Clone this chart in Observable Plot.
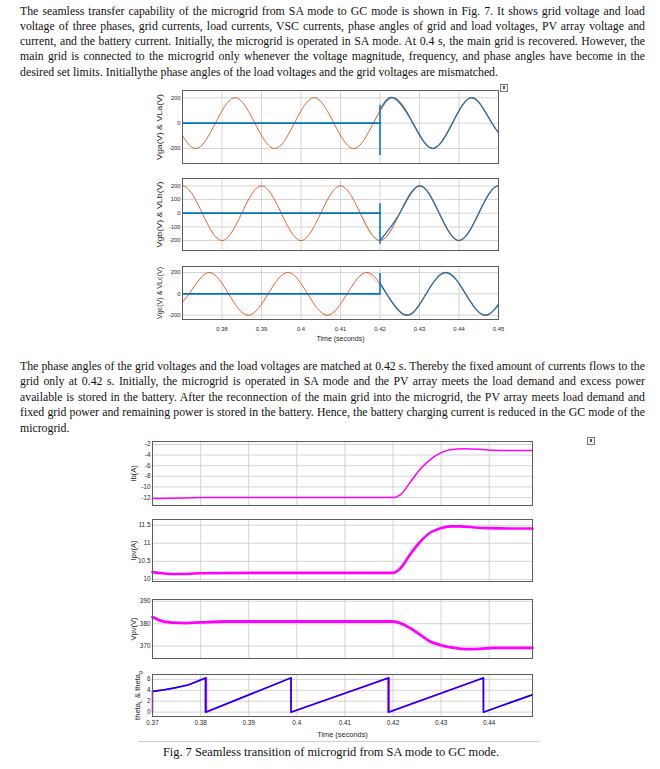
<!DOCTYPE html>
<html><head><meta charset="utf-8">
<script src="https://cdn.jsdelivr.net/npm/d3@7"></script>
<script src="https://cdn.jsdelivr.net/npm/@observablehq/plot@0.6"></script>
<style>
html,body{margin:0;padding:0;background:#fff;}
#page{position:relative;width:660px;height:769px;overflow:hidden;font-family:"Liberation Serif","Times New Roman",serif;color:#111;}
.ln{position:absolute;left:20px;width:625px;white-space:nowrap;font-size:11.8px;line-height:15px;height:15px;}
.panel{position:absolute;}
.icon{position:absolute;width:6px;height:6px;border:1px solid #777;background:#f4f4f4;}
.icon:after{content:"";position:absolute;left:2px;top:1px;width:2px;height:3px;background:#555;}
#caption{position:absolute;left:0;width:662px;text-align:center;font-size:12.4px;top:744px;line-height:16px;}
#rule{position:absolute;left:138px;width:402px;top:741px;height:1px;background:#cfcfcf;}
</style></head>
<body><div id="page"></div>
<script>
// ---------- text ----------
const para1 = [
 "The seamless transfer capability of the microgrid from SA mode to GC mode is shown in Fig. 7. It shows grid voltage and load",
 "voltage of three phases, grid currents, load currents, VSC currents, phase angles of grid and load voltages, PV array voltage and",
 "current, and the battery current. Initially, the microgrid is operated in SA mode. At 0.4 s, the main grid is recovered. However, the",
 "main grid is connected to the microgrid only whenever the voltage magnitude, frequency, and phase angles have become in the",
 "desired set limits. Initiallythe phase angles of the load voltages and the grid voltages are mismatched."
];
const para2 = [
 "The phase angles of the grid voltages and the load voltages are matched at 0.42 s. Thereby the fixed amount of currents flows to the",
 "grid only at 0.42 s. Initially, the microgrid is operated in SA mode and the PV array meets the load demand and excess power",
 "available is stored in the battery. After the reconnection of the main grid into the microgrid, the PV array meets load demand and",
 "fixed grid power and remaining power is stored in the battery. Hence, the battery charging current is reduced in the GC mode of the",
 "microgrid."
];
const captionText = "Fig. 7 Seamless transition of microgrid from SA mode to GC mode.";
const timeLabel = "Time (seconds)";

// ---------- figure A: three-phase voltages ----------
const topTimeTicks = [0.38, 0.39, 0.40, 0.41, 0.42, 0.43, 0.44, 0.45];
const topDomain = [0.37, 0.45];
const phaseLabels = ["Vga(V) & VLa(V)", "Vgb(V) & VLb(V)", "Vgc(V) & VLc(V)"];
const phaseYTicks = [[-200, 0, 200], [-200, -100, 0, 100, 200], [-200, 0, 200]];
const phaseYDomains = [[-318, 257], [-273, 254], [-240, 256]];
// grid voltage key points (zero crossings and peaks)
const gaT = [0.36833,0.37333,0.37833,0.38333,0.38833,0.39333,0.39833,0.40333,0.40833,0.41333,0.41833,0.42333,0.42833,0.43333,0.43833,0.44333,0.44833,0.45333];
const gaV = [0,-200,0,200,0,-200,0,200,0,-200,0,200,0,-200,0,200,0,-200];
const gbT = [0.365,0.370,0.375,0.380,0.385,0.390,0.395,0.400,0.405,0.410,0.415,0.420,0.425,0.430,0.435,0.440,0.445,0.450,0.455];
const gbV = [0,200,0,-200,0,200,0,-200,0,200,0,-200,0,200,0,-200,0,200,0];
const gcT = [0.36667,0.37167,0.37667,0.38167,0.38667,0.39167,0.39667,0.40167,0.40667,0.41167,0.41667,0.42167,0.42667,0.43167,0.43667,0.44167,0.44667,0.45167];
const gcV = [-200,0,200,0,-200,0,200,0,-200,0,200,0,-200,0,200,0,-200,0];
// load voltage after reconnection at 0.42 s
const laT = [0.420,0.42333,0.42833,0.43333,0.43833,0.44333,0.44833,0.45333];
const laV = [100,200,0,-200,0,200,0,-200];
const lbT = [0.420,0.425,0.430,0.435,0.440,0.445,0.450,0.455];
const lbV = [-200,0,200,0,-200,0,200,0];
const lcT = [0.420,0.42167,0.42667,0.43167,0.43667,0.44167,0.44667,0.45167];
const lcV = [100,0,-200,0,200,0,-200,0];
const loadFlatT = [0.37, 0.42];
const loadFlatV = [0, 0];
const switchTime = 0.42;
const spikeLow = [-255, -228, 0];
const spikeHigh = [140, 70, 190];

// ---------- figure B: battery / PV / angles ----------
const botTimeTicks = [0.37, 0.38, 0.39, 0.40, 0.41, 0.42, 0.43, 0.44];
const botGridTicks = [0.38, 0.39, 0.40, 0.41, 0.42, 0.43, 0.44];
const botDomain = [0.37, 0.449];
const ibT = [0.370,0.374,0.378,0.380,0.390,0.400,0.410,0.4200,0.4215,0.4236,0.4257,0.4278,0.4299,0.4319,0.4347,0.4381,0.4408,0.4449,0.449];
const ibV = [-12.2,-12.15,-12.05,-12.0,-12.0,-12.0,-12.0,-12.0,-11.5,-9.1,-6.6,-4.8,-3.6,-3.0,-2.8,-2.9,-3.1,-3.15,-3.15];
const ibTicks = [-12,-10,-8,-6,-4,-2];
const ipT = [0.370,0.372,0.374,0.377,0.380,0.390,0.400,0.410,0.420,0.4215,0.4236,0.4257,0.4278,0.4299,0.4320,0.4340,0.4370,0.4400,0.4449,0.449];
const ipV = [10.2,10.17,10.15,10.15,10.17,10.18,10.18,10.18,10.18,10.3,10.7,11.05,11.3,11.42,11.47,11.47,11.44,11.42,11.41,11.41];
const ipTicks = [10, 10.5, 11, 11.5];
const vpT = [0.370,0.3715,0.374,0.377,0.380,0.385,0.400,0.420,0.4215,0.4236,0.4257,0.4278,0.4299,0.4320,0.4350,0.4380,0.4410,0.4449,0.449];
const vpV = [383,381.5,380.5,380.3,380.6,381,381,381,380.3,378,375,372,370.5,369.5,368.7,368.8,369.2,369.2,369.2];
const vpTicks = [370, 380, 390];
const thGT = [0.370,0.3725,0.375,0.3775,0.3800,0.3810,0.3810,0.3988,0.3988,0.4190,0.4190,0.4388,0.4388,0.449];
const thGV = [3.8,4.1,4.5,5.0,5.9,6.28,0,6.28,0,6.28,0,6.28,0,3.2];
const thLT = [0.370,0.370,0.3725,0.375,0.3775,0.3800,0.3812,0.3812,0.3988,0.3988,0.4192,0.4192,0.4388,0.4388,0.449];
const thLV = [0,3.8,4.1,4.5,5.0,5.9,6.28,0,6.28,0,6.28,0,6.28,0,3.2];
const thTicks = [0, 2, 4, 6];

const ORANGE = "#D95319", BLUE = "#0072BD", MAGENTA = "#FF00FF", PURE_BLUE = "#0000FF";
const page = document.getElementById("page");

function paragraph(lines, top, lh) {
  lines.forEach((t, i) => {
    const d = document.createElement("div");
    d.className = "ln"; d.style.top = (top + i * lh) + "px";
    const s = document.createElement("span"); s.textContent = t;
    d.appendChild(s); page.appendChild(d);
    if (i < lines.length - 1) {
      const w = s.getBoundingClientRect().width;
      const n = (t.match(/ /g) || []).length;
      s.style.wordSpacing = ((625 - w) / n) + "px";
    }
  });
}
paragraph(para1, 3.5, 15.3);
paragraph(para2, 358.5, 15.5);

function panel(o) {
  const ml = o.ml, mr = 6, mt = 3, mb = o.mb ?? 3;
  const fmt = d => String(+d.toFixed(2));
  const marks = [
    Plot.ruleX(o.xGrid, {stroke: "#d4d4d4", strokeWidth: 1}),
    Plot.ruleY(o.yTicks, {stroke: "#d4d4d4", strokeWidth: 1}),
    ...o.marks,
    Plot.axisY(o.yTicks, {tickSize: 0, tickPadding: 2, fontSize: o.tickFont, label: null, tickFormat: d => String(d)}),
    Plot.text([o.yLabel], {frameAnchor: "left", textAnchor: "middle", lineAnchor: "middle", dx: o.labelDx, rotate: -90, fontSize: o.labelFont, fill: "#262626"}),
    Plot.frame({stroke: "#5c5c5c", strokeWidth: 1})
  ];
  if (o.xTicks) {
    marks.push(
      Plot.axisX(o.xTicks, {tickSize: 0, tickPadding: o.xPad, fontSize: o.tickFont, label: null, tickFormat: fmt}),
      Plot.text([timeLabel], {frameAnchor: "bottom", textAnchor: "middle", lineAnchor: "middle", dy: o.timeDy, fontSize: o.timeFont, fill: "#262626"})
    );
  }
  const svg = Plot.plot({
    width: ml + o.w + mr, height: mt + o.h + mb,
    marginLeft: ml, marginRight: mr, marginTop: mt, marginBottom: mb,
    x: o.xTicks ? {domain: o.xDomain} : {domain: o.xDomain, axis: null},
    y: {domain: o.yDomain},
    style: {fontFamily: "'Liberation Sans', Arial, sans-serif", color: "#262626", background: "transparent", overflow: "visible"},
    marks
  });
  if (o.labelLength) {
    d3.select(svg).selectAll("text").filter(function () { return this.textContent === o.yLabel; })
      .attr("textLength", o.labelLength).attr("lengthAdjust", "spacingAndGlyphs");
  }
  if (o.post) o.post(svg);
  const holder = document.createElement("div");
  holder.className = "panel";
  holder.style.left = (o.left - ml) + "px";
  holder.style.top = (o.top - mt) + "px";
  holder.appendChild(svg);
  page.appendChild(holder);
}

// top figure panels
const topFrames = [{top: 90, h: 73, len: 66}, {top: 178, h: 72, len: 66}, {top: 266, h: 53, len: 52}];
const gridSeries = [[gaT, gaV], [gbT, gbV], [gcT, gcV]];
const loadSeries = [[laT, laV], [lbT, lbV], [lcT, lcV]];
for (let k = 0; k < 3; k++) {
  const last = k === 2;
  const spike = [{t: switchTime, lo: spikeLow[k], hi: spikeHigh[k]}];
  const gT = gridSeries[k][0], gV = gridSeries[k][1];
  panel({
    left: 182, top: topFrames[k].top, w: 316, h: topFrames[k].h, ml: 44, mb: last ? 28 : 3,
    xDomain: topDomain, yDomain: phaseYDomains[k], yTicks: phaseYTicks[k], xGrid: topTimeTicks,
    xTicks: last ? topTimeTicks : null, xPad: 7, timeDy: 19,
    tickFont: 5.8, timeFont: 7, labelFont: 7.2, labelDx: -23, yLabel: phaseLabels[k], labelLength: topFrames[k].len,
    marks: [
      Plot.line(gV, {x: gT, y: gV, curve: "natural", stroke: ORANGE, strokeWidth: 0.9, clip: true}),
      Plot.line(loadFlatV, {x: loadFlatT, y: loadFlatV, stroke: BLUE, strokeWidth: 1.8, clip: true}),
      Plot.ruleX(spike, {x: "t", y1: "lo", y2: "hi", stroke: BLUE, strokeWidth: 1.5}),
      Plot.line(loadSeries[k][1], {x: loadSeries[k][0], y: loadSeries[k][1], curve: "natural", stroke: BLUE, strokeWidth: 1.3, clip: true}),
      Plot.line(gV.filter((_, i) => gT[i] >= 0.415), {x: gT.filter(t => t >= 0.415), y: gV.filter((_, i) => gT[i] >= 0.415), curve: "natural", stroke: ORANGE, strokeWidth: 0.6, strokeOpacity: 0.6, clip: true})
    ]
  });
}

// bottom figure panels
const bot = [
  {top: 441, h: 64, dom: [-13.5, -1.45], ticks: ibTicks, label: "Ib(A)", marks: [
    Plot.line(ibV, {x: ibT, y: ibV, curve: "monotone-x", stroke: MAGENTA, strokeWidth: 1.5})]},
  {top: 519, h: 62, dom: [9.94, 11.66], ticks: ipTicks, label: "Ipv(A)", marks: [
    Plot.line(ipV, {x: ipT, y: ipV, curve: "monotone-x", stroke: MAGENTA, strokeWidth: 2.6})]},
  {top: 599, h: 59, dom: [364.5, 390.8], ticks: vpTicks, label: "Vpv(V)", marks: [
    Plot.line(vpV, {x: vpT, y: vpV, curve: "monotone-x", stroke: MAGENTA, strokeWidth: 2.8})]},
  {top: 674, h: 42, dom: [-0.8, 6.9], ticks: thTicks, label: "thetaL & thetag", marks: [
    Plot.line(thLV, {x: thLT, y: thLV, stroke: MAGENTA, strokeWidth: 1.6}),
    Plot.line(thGV, {x: thGT, y: thGV, stroke: PURE_BLUE, strokeWidth: 1.5})]}
];
bot.forEach((b, k) => {
  const last = k === 3;
  panel({
    left: 152, top: b.top, w: 380, h: b.h, ml: 44, mb: last ? 26 : 3,
    xDomain: botDomain, yDomain: b.dom, yTicks: b.ticks, xGrid: botGridTicks,
    xTicks: last ? botTimeTicks : null, xPad: 4, timeDy: 18,
    tickFont: 6.4, timeFont: 7.4, labelFont: 7.6, labelDx: last ? -15 : -19, yLabel: b.label,
    marks: b.marks,
    post: last ? svg => {
      d3.select(svg).selectAll("text").filter(function () { return this.textContent === "thetaL & thetag"; }).each(function () {
        const t = d3.select(this); t.text(null);
        t.append("tspan").text("theta");
        t.append("tspan").attr("dy", 2).attr("font-size", 5.2).text("L");
        t.append("tspan").attr("dy", -2).text(" & theta");
        t.append("tspan").attr("dy", 2).attr("font-size", 5.2).text("g");
      });
    } : null
  });
});

// decorations
const ic1 = document.createElement("div"); ic1.className = "icon"; ic1.style.left = "500px"; ic1.style.top = "84px"; page.appendChild(ic1);
const ic2 = document.createElement("div"); ic2.className = "icon"; ic2.style.left = "587px"; ic2.style.top = "437px"; page.appendChild(ic2);
const rule = document.createElement("div"); rule.id = "rule"; page.appendChild(rule);
const cap = document.createElement("div"); cap.id = "caption"; cap.textContent = captionText; page.appendChild(cap);
</script>
</body></html>
